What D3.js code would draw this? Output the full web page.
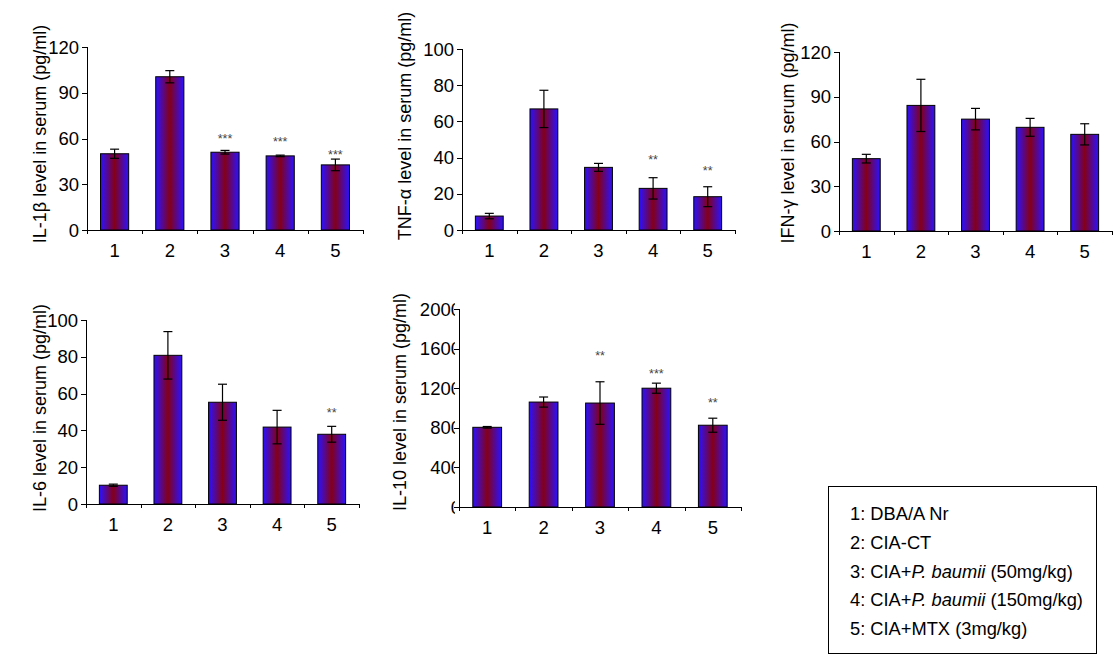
<!DOCTYPE html>
<html><head><meta charset="utf-8">
<script src="https://cdn.jsdelivr.net/npm/d3@7"></script>
<style>
html,body{margin:0;padding:0;background:#fff;}
svg{display:block;font-family:Arial,"Liberation Sans",sans-serif;}
</style></head>
<body>
<svg id="chart" width="1116" height="665"></svg>
<script>
// ---- data ----
const categories = ["1","2","3","4","5"];

const il1bMean = [50, 100.5, 51, 48.6, 42.7];
const il1bErr  = [3, 4, 1.2, 0.5, 3.8];
const il1bSig  = ["", "", "***", "***", "***"];
const il1bSigY = [null, null, 61.6, 59.7, 51.1];
const il1bTicks = [0, 30, 60, 90, 120];

const tnfMean = [7.7, 66.9, 34.6, 23, 18.4];
const tnfErr  = [1.5, 10.3, 2.2, 5.9, 5.5];
const tnfSig  = ["", "", "", "**", "**"];
const tnfSigY = [null, null, null, 40.3, 34.3];
const tnfTicks = [0, 20, 40, 60, 80, 100];

const ifnMean = [48.5, 84.2, 75, 69.5, 64.8];
const ifnErr  = [2.9, 17.5, 7.2, 6, 7.1];
const ifnSig  = ["", "", "", "", ""];
const ifnSigY = [null, null, null, null, null];
const ifnTicks = [0, 30, 60, 90, 120];

const il6Mean = [10.2, 80.8, 55.3, 41.8, 37.9];
const il6Err  = [0.6, 12.9, 9.8, 9.1, 4.3];
const il6Sig  = ["", "", "", "", "**"];
const il6SigY = [null, null, null, null, 51];
const il6Ticks = [0, 20, 40, 60, 80, 100];

const il10Mean = [805, 1060, 1050, 1200, 826];
const il10Err  = [8, 51, 215, 51, 71];
const il10Sig  = ["", "", "**", "***", "**"];
const il10SigY = [null, null, 1560, 1378, 1084];
const il10Ticks = [0, 400, 800, 1200, 1600, 2000];

const legendItems = [
  [{t:"1: DBA/A Nr"}],
  [{t:"2: CIA-CT"}],
  [{t:"3: CIA+"},{t:"P. baumii",i:true},{t:" (50mg/kg)"}],
  [{t:"4: CIA+"},{t:"P. baumii",i:true},{t:" (150mg/kg)"}],
  [{t:"5: CIA+MTX (3mg/kg)"}]
];

// ---- layout ----
const panels = [
  {title:"IL-1\u03B2 level in serum (pg/ml)", mean:il1bMean, err:il1bErr, sig:il1bSig, sigY:il1bSigY, ticks:il1bTicks,
   ax:87, xe:363, y0:230, yt:47, tx:40, ty:134, clip:false},
  {title:"TNF-\u03B1 level in serum (pg/ml)", mean:tnfMean, err:tnfErr, sig:tnfSig, sigY:tnfSigY, ticks:tnfTicks,
   ax:462, xe:735, y0:230, yt:49, tx:405, ty:126, clip:false},
  {title:"IFN-\u03B3 level in serum (pg/ml)", mean:ifnMean, err:ifnErr, sig:ifnSig, sigY:ifnSigY, ticks:ifnTicks,
   ax:839, xe:1112, y0:231, yt:52, tx:788, ty:133, clip:false},
  {title:"IL-6 level in serum (pg/ml)", mean:il6Mean, err:il6Err, sig:il6Sig, sigY:il6SigY, ticks:il6Ticks,
   ax:86, xe:359, y0:504, yt:320, tx:40, ty:408, clip:false},
  {title:"IL-10 level in serum (pg/ml)", mean:il10Mean, err:il10Err, sig:il10Sig, sigY:il10SigY, ticks:il10Ticks,
   ax:459, xe:741, y0:507, yt:309, tx:400, ty:402, clip:true}
];

const FS_TICK = 18.5, FS_TITLE = 18, FS_LEG = 18.3;

const svg = d3.select("#chart");
const defs = svg.append("defs");
const grad = defs.append("linearGradient").attr("id","barGrad")
  .attr("x1","0").attr("x2","1").attr("y1","0").attr("y2","0");
grad.append("stop").attr("offset","0%").attr("stop-color","#2a12ff");
grad.append("stop").attr("offset","50%").attr("stop-color","#840018");
grad.append("stop").attr("offset","100%").attr("stop-color","#2a12ff");

panels.forEach((p, pi) => {
  const g = svg.append("g");
  const x = d3.scaleBand().domain(categories).range([p.ax, p.xe]).paddingInner(0.49).paddingOuter(0.245);
  const yMax = p.ticks[p.ticks.length-1];
  const y = d3.scaleLinear().domain([0, yMax]).range([p.y0, p.yt]);
  const step = x.step();
  const x0 = p.ax;

  // bars
  g.selectAll("rect.bar").data(p.mean).join("rect")
    .attr("class","bar")
    .attr("x",(d,i)=>x(categories[i]))
    .attr("y",d=>y(d))
    .attr("width",x.bandwidth())
    .attr("height",d=>p.y0 - y(d))
    .attr("fill","url(#barGrad)")
    .attr("stroke","#000").attr("stroke-width",1);

  // error bars
  const cap = 4.5;
  p.mean.forEach((m,i)=>{
    const cx = x(categories[i]) + x.bandwidth()/2;
    const hi = y(m + p.err[i]), lo = y(m - p.err[i]);
    g.append("line").attr("x1",cx).attr("x2",cx).attr("y1",hi).attr("y2",lo).attr("stroke","#000").attr("stroke-width",1.2);
    g.append("line").attr("x1",cx-cap).attr("x2",cx+cap).attr("y1",hi).attr("y2",hi).attr("stroke","#000").attr("stroke-width",1.2);
    g.append("line").attr("x1",cx-cap).attr("x2",cx+cap).attr("y1",lo).attr("y2",lo).attr("stroke","#000").attr("stroke-width",1.2);
    if (p.sig[i]) {
      g.append("text").attr("x",cx).attr("y",y(p.sigY[i])+7)
        .attr("text-anchor","middle").attr("font-size",12.5).attr("fill","#444")
        .text(p.sig[i]);
    }
  });

  // axes
  g.append("line").attr("x1",x0).attr("x2",p.xe).attr("y1",p.y0+0.5).attr("y2",p.y0+0.5).attr("stroke","#000").attr("stroke-width",1);
  g.append("line").attr("x1",x0+0.5).attr("x2",x0+0.5).attr("y1",p.yt).attr("y2",p.y0).attr("stroke","#000").attr("stroke-width",1);
  // x boundary ticks
  for (let k=0;k<=categories.length;k++){
    const tx = Math.round(x0 + k*step)+0.5;
    g.append("line").attr("x1",tx).attr("x2",tx).attr("y1",p.y0).attr("y2",p.y0+4).attr("stroke","#000").attr("stroke-width",1);
  }
  // category labels
  categories.forEach(c=>{
    g.append("text").attr("x",x(c)+x.bandwidth()/2).attr("y",p.y0+20)
      .attr("text-anchor","middle").attr("dominant-baseline","central")
      .attr("font-size",FS_TICK).attr("fill","#000").text(c);
  });
  // y ticks
  let labG = g.append("g");
  if (p.clip) {
    defs.append("clipPath").attr("id","clip"+pi).append("rect")
      .attr("x",p.ax-80).attr("y",p.yt-20).attr("width",80-4).attr("height",p.y0-p.yt+40);
    labG.attr("clip-path","url(#clip"+pi+")");
  }
  p.ticks.forEach(t=>{
    const ty = Math.round(y(t))+0.5;
    g.append("line").attr("x1",x0-5).attr("x2",x0).attr("y1",ty).attr("y2",ty).attr("stroke","#000").attr("stroke-width",1);
    labG.append("text").attr("x", p.clip ? x0+2 : x0-8).attr("y",y(t))
      .attr("text-anchor","end").attr("dominant-baseline","central")
      .attr("font-size",FS_TICK).attr("fill","#000").text(t);
  });
  // axis title
  g.append("text").attr("transform",`translate(${p.tx},${p.ty}) rotate(-90)`)
    .attr("text-anchor","middle").attr("dominant-baseline","central")
    .attr("font-size",FS_TITLE).attr("fill","#000").text(p.title);
});

// legend
const lg = svg.append("g");
lg.append("rect").attr("x",828.5).attr("y",486.5).attr("width",268).attr("height",167)
  .attr("fill","none").attr("stroke","#000").attr("stroke-width",1);
const ly = d3.scaleLinear().domain([0,4]).range([513,628]);
legendItems.forEach((parts,i)=>{
  const t = lg.append("text").attr("x",850).attr("y",ly(i)).attr("dominant-baseline","central")
    .attr("font-size",FS_LEG).attr("fill","#000");
  parts.forEach(pt=>{
    t.append("tspan").attr("font-style",pt.i?"italic":"normal").text(pt.t);
  });
});
</script>
</body></html>
